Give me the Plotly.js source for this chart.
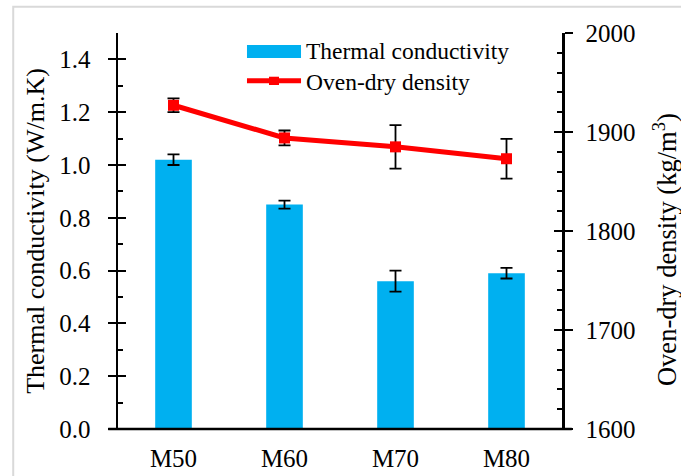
<!DOCTYPE html>
<html><head><meta charset="utf-8">
<script src="https://cdn.plot.ly/plotly-3.0.1.min.js"></script>
<style>body{margin:0;background:#fff}#c{width:681px;height:476px}</style>
</head><body><div id="c"></div>
<script>
const categories = ["M50", "M60", "M70", "M80"];
const conductivity = [1.02, 0.85, 0.56, 0.59];
const conductivityErr = [0.02, 0.015, 0.04, 0.02];
const density = [1927, 1894, 1885, 1873];
const densityErr = [7, 7.5, 22, 20];
const seriesNames = ["Thermal conductivity", "Oven-dry density"];
const axisTitles = ["Thermal conductivity (W/m.K)", "Oven-dry density (kg/m<sup>3</sup>)"];

const fam = "Liberation Serif";
const F = (s) => ({family:fam, size:s, color:'#000'});
const barColor = '#00B0F0', lineColor = '#FF0000';
const traces = [
  {type:'bar', x:categories, y:conductivity, name:seriesNames[0],
   marker:{color:barColor},
   error_y:{type:'data', array:conductivityErr, color:'#000', thickness:1.8, width:6},
   yaxis:'y'},
  {type:'scatter', mode:'lines+markers', x:categories, y:density, name:seriesNames[1],
   line:{color:lineColor, width:5}, marker:{symbol:'square', size:11, color:lineColor},
   error_y:{type:'data', array:densityErr, color:'#000', thickness:1.8, width:6},
   yaxis:'y2'},
  {type:'scatter', x:categories, y:conductivity, yaxis:'y3', mode:'none', showlegend:false, hoverinfo:'skip'},
  {type:'scatter', x:categories, y:density, yaxis:'y4', mode:'none', showlegend:false, hoverinfo:'skip'}
];
const axisCommon = {showgrid:false, zeroline:false, linecolor:'#000', linewidth:2.5, tickcolor:'#000', tickwidth:2, ticklen:8};
const layout = {
  width:681, height:476,
  margin:{l:118, r:119, t:33, b:47},
  paper_bgcolor:'#fff', plot_bgcolor:'#fff',
  font:F(24),
  showlegend:false, bargap:0.67,
  xaxis:{...axisCommon, ticks:'', range:[-0.5,3.5], tickfont:F(25), showline:false, ticklabelstandoff:12},
  yaxis:{...axisCommon, range:[0,1.5], dtick:0.2, tickformat:'.1f', ticks:'outside', showline:true,
    tickfont:F(25), ticklabelstandoff:12,
    title:{text:axisTitles[0], font:F(26), standoff:7}},
  yaxis2:{...axisCommon, overlaying:'y', side:'right', range:[1600,2000], dtick:100, ticks:'outside', showline:true,
    tickfont:F(25), ticklabelstandoff:8},
  yaxis3:{...axisCommon, overlaying:'y', side:'left', range:[0,1.5], dtick:0.2, ticks:'inside', showticklabels:false, showline:false,
    minor:{ticks:'inside', dtick:0.1, ticklen:5, tickcolor:'#000', tickwidth:2}},
  yaxis4:{...axisCommon, overlaying:'y', side:'right', range:[1600,2000], dtick:100, ticks:'inside', showticklabels:false, showline:false,
    minor:{ticks:'inside', dtick:20, ticklen:5, tickcolor:'#000', tickwidth:2}},
  shapes:[
    {type:'line', xref:'paper', yref:'paper', x0:-0.022, x1:1.022, y0:0, y1:0, line:{color:'#000', width:2.5}},
    {type:'rect', xref:'paper', yref:'paper', x0:-0.236, x1:1.5, y0:1.066, y1:-0.5, line:{color:'#d9d9d9', width:2}, layer:'below'},
    // legend keys
    {type:'rect', xref:'paper', yref:'paper', x0:0.2905, x1:0.4122, y0:0.9369, y1:0.9697, fillcolor:barColor, line:{width:0}},
    {type:'line', xref:'paper', yref:'paper', x0:0.2905, x1:0.4122, y0:0.8795, y1:0.8795, line:{color:lineColor, width:5}},
    {type:'rect', xref:'paper', yref:'paper', x0:0.3401, x1:0.3626, y0:0.8687, y1:0.8896, fillcolor:lineColor, line:{width:0}}
  ],
  annotations:[
    {xref:'paper', yref:'paper', x:0.42, y:0.955, xanchor:'left', yanchor:'middle', text:seriesNames[0], showarrow:false, font:F(23.5)},
    {xref:'paper', yref:'paper', x:0.42, y:0.877, xanchor:'left', yanchor:'middle', text:seriesNames[1], showarrow:false, font:F(23.5)},
    {xref:'paper', yref:'paper', x:1.232, y:0.452, xanchor:'center', yanchor:'middle', textangle:-90, text:axisTitles[1], showarrow:false, font:F(26.5)}
  ]
};
Plotly.newPlot('c', traces, layout, {displayModeBar:false, staticPlot:true});
</script></body></html>
